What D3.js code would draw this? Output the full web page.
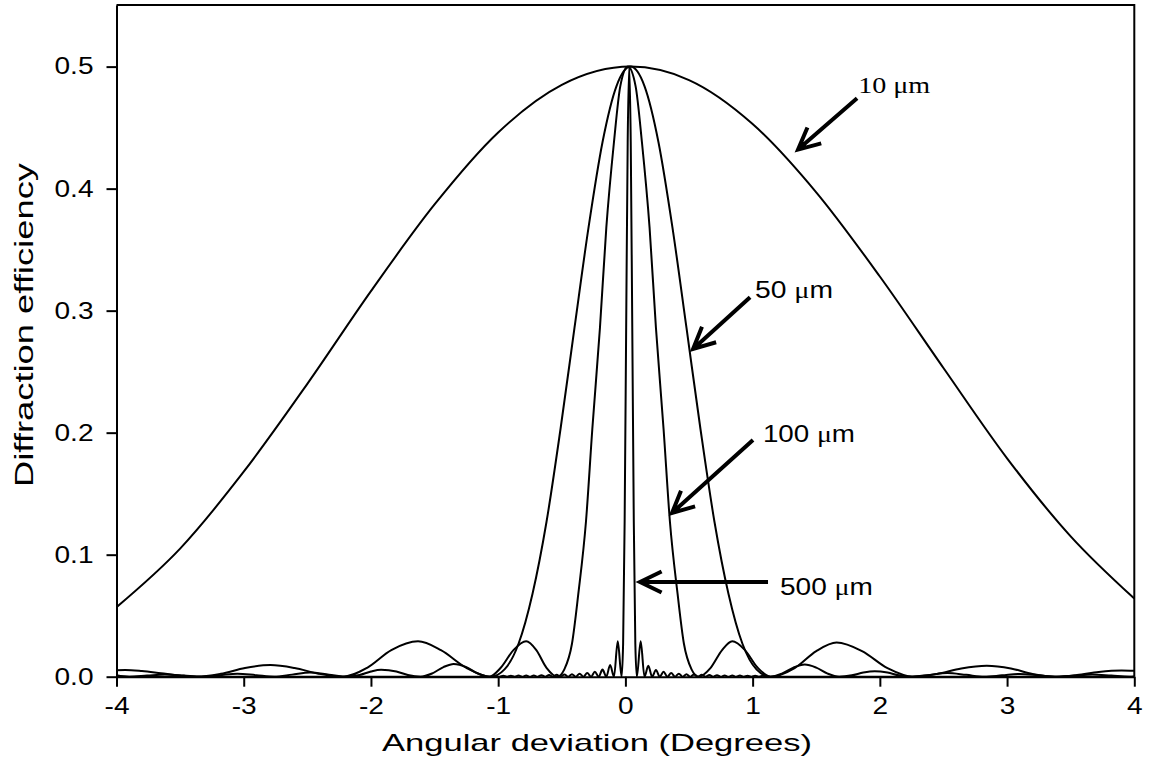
<!DOCTYPE html>
<html><head><meta charset="utf-8">
<script src="https://cdn.jsdelivr.net/npm/d3@7"></script>
<style>body{margin:0;background:#fff} svg{display:block}</style>
</head><body><svg id="c" width="1152" height="773"></svg>
<script>
// ---------- data ----------
const xTicks = [-4,-3,-2,-1,0,1,2,3,4];
const xTickLabels = ["-4","-3","-2","-1","0","1","2","3","4"];
const yTicks = [0,0.1,0.2,0.3,0.4,0.5];
const yTickLabels = ["0.0","0.1","0.2","0.3","0.4","0.5"];
const xTitle = "Angular deviation (Degrees)";
const yTitle = "Diffraction efficiency";
const seriesNames = ["10 \u03bcm","50 \u03bcm","100 \u03bcm","500 \u03bcm"];

const tenMicron = [[-4,0.057],[-3.5,0.105],[-3,0.168],[-2.5,0.240],[-2,0.316],[-1.5,0.387],[-1,0.446],[-0.5,0.485],[0.04,0.5],[0.5,0.489],[1,0.453],[1.5,0.397],[2,0.328],[2.5,0.253],[3,0.179],[3.5,0.115],[4,0.064]];

const fiftyMicron = [[-4,0.0052],[-3.93,0.0055],[-3.8,0.0046],[-3.65,0.0028],[-3.5,0.0010],[-3.37,0],
[-3.18,0.0024],[-2.99,0.0071],[-2.79,0.0095],[-2.60,0.0071],[-2.41,0.0024],[-2.22,0],
[-2.03,0.0073],[-1.84,0.0218],[-1.63,0.029],[-1.45,0.0218],[-1.25,0.0073],[-1.06,0],
[-0.95,0.006],[-0.84,0.027],[-0.73,0.068],[-0.62,0.127],[-0.51,0.203],[-0.40,0.286],[-0.29,0.368],[-0.18,0.438],[-0.07,0.484],[0.04,0.5],[0.15,0.484],[0.26,0.438],[0.37,0.368],[0.48,0.286],[0.59,0.203],[0.70,0.127],[0.81,0.068],[0.92,0.027],[1.03,0.006],[1.14,0],
[1.33,0.007],[1.50,0.021],[1.66,0.028],[1.86,0.021],[2.06,0.007],[2.26,0],
[2.45,0.0023],[2.64,0.0068],[2.84,0.009],[3.03,0.0068],[3.20,0.0023],[3.38,0],
[3.55,0.0013],[3.72,0.0038],[3.90,0.005],[4,0.0048]];

const hundredMicron = [[-4,0.0012],[-3.90,0],[-3.76,0.0009],[-3.62,0.0018],[-3.47,0.0009],[-3.33,0],[-3.19,0.0012],[-3.05,0.0025],[-2.90,0.0012],[-2.76,0],[-2.62,0.0017],[-2.48,0.0035],[-2.33,0.0017],[-2.19,0],
[-2.09,0.0014],[-2.0,0.0043],[-1.92,0.0057],[-1.80,0.0043],[-1.71,0.0014],[-1.61,0],
[-1.52,0.0026],[-1.43,0.0079],[-1.35,0.0105],[-1.25,0.0079],[-1.16,0.0026],[-1.07,0],
[-0.98,0.0073],[-0.88,0.0218],[-0.78,0.029],[-0.70,0.0218],[-0.62,0.0073],[-0.535,0],
[-0.48,0.006],[-0.42,0.027],[-0.37,0.068],[-0.31,0.127],[-0.26,0.203],[-0.20,0.286],[-0.15,0.368],[-0.09,0.438],[-0.04,0.484],[0.02,0.5],[0.08,0.484],[0.13,0.438],[0.19,0.368],[0.24,0.286],[0.30,0.203],[0.35,0.127],[0.41,0.068],[0.46,0.027],[0.52,0.006],[0.575,0],
[0.67,0.0073],[0.76,0.0218],[0.84,0.029],[0.94,0.0218],[1.04,0.0073],[1.14,0],
[1.23,0.0025],[1.32,0.0074],[1.41,0.0099],[1.50,0.0074],[1.59,0.0025],[1.68,0],
[1.78,0.0011],[1.87,0.0034],[1.96,0.0045],[2.06,0.0034],[2.15,0.0011],[2.25,0],
[2.39,0.0015],[2.53,0.003],[2.68,0.0015],[2.82,0],[2.96,0.0011],[3.10,0.0023],[3.25,0.0011],[3.39,0],[3.53,0.0009],[3.67,0.0018],[3.82,0.0009],[3.96,0],[4,0.0002]];

const fiveHundredMicron = [[-4,0],[-0.99,0],[-0.96,0.0008],[-0.93,0],[-0.90,0.0008],[-0.87,0],[-0.84,0.0009],[-0.81,0],[-0.78,0.001],[-0.75,0],[-0.72,0.001],[-0.69,0],[-0.66,0.0012],[-0.63,0],[-0.60,0.0013],[-0.57,0],[-0.54,0.0015],[-0.51,0],[-0.48,0.0018],[-0.45,0],[-0.42,0.002],[-0.39,0],[-0.36,0.0025],[-0.33,0],[-0.30,0.003],[-0.27,0],[-0.24,0.004],[-0.21,0],[-0.18,0.0058],[-0.15,0],[-0.12,0.0096],[-0.09,0],[-0.06,0.029],[-0.03,0],
[-0.018,0.027],[-0.006,0.127],[0.006,0.286],[0.018,0.438],[0.03,0.5],[0.042,0.438],[0.054,0.286],[0.066,0.127],[0.078,0.027],[0.09,0],
[0.12,0.029],[0.15,0],[0.18,0.009],[0.21,0],[0.24,0.0055],[0.27,0],[0.30,0.004],[0.33,0],[0.36,0.003],[0.39,0],[0.42,0.0025],[0.45,0],[0.48,0.002],[0.51,0],[0.54,0.0018],[0.57,0],[0.60,0.0015],[0.63,0],[0.66,0.0013],[0.69,0],[0.72,0.0012],[0.75,0],[0.78,0.001],[0.81,0],[0.84,0.001],[0.87,0],[0.90,0.0009],[0.93,0],[0.96,0.0008],[0.99,0],[1.02,0.0008],[1.05,0],[1.08,0.0007],[1.11,0],[4,0]];

// annotation anchors in data units (tail of arrow, tip of arrow, label start)
const arrowTails = [[1.821,0.474],[0.980,0.311],[1.003,0.194],[1.121,0.0776]];
const arrowTips  = [[1.357,0.432],[0.532,0.2686],[0.3665,0.1342],[0.115,0.0776]];
const labelPos   = [[1.83,0.478],[1.019,0.3104],[1.081,0.1924],[1.215,0.067]];

// ---------- layout ----------
const svg = d3.select("#c");
const x = d3.scaleLinear().domain([-4,4]).range([116.5,1134.3]);
const y = d3.scaleLinear().domain([0,0.5505]).range([676.7,5]);
const SANS = "'Liberation Sans', Arial, sans-serif";
const SERIF = "'Liberation Serif', 'Times New Roman', serif";

function stretch(sel, f){
  sel.each(function(){
    const w = this.getComputedTextLength();
    this.setAttribute("textLength", w*f);
    this.setAttribute("lengthAdjust","spacingAndGlyphs");
  });
}

svg.append("clipPath").attr("id","clip").append("rect")
  .attr("x",x(-4)).attr("y",y(0.5505)).attr("width",x(4)-x(-4)).attr("height",y(0)-y(0.5505)+2);

const line = d3.line().x(d=>x(d[0])).y(d=>y(d[1])).curve(d3.curveMonotoneX);
const gc = svg.append("g").attr("clip-path","url(#clip)");
[tenMicron,fiftyMicron,hundredMicron,fiveHundredMicron].forEach(s=>{
  gc.append("path").attr("d",line(s)).attr("fill","none").attr("stroke","#000").attr("stroke-width",2).attr("stroke-linejoin","round");
});

// axes
const gx = svg.append("g").attr("transform",`translate(0,${y(0)})`)
  .call(d3.axisBottom(x).tickValues(xTicks).tickFormat((d,i)=>xTickLabels[i]).tickSize(10).tickSizeOuter(0).tickPadding(11));
const gy = svg.append("g").attr("transform",`translate(${x(-4)},0)`)
  .call(d3.axisLeft(y).tickValues(yTicks).tickFormat((d,i)=>yTickLabels[i]).tickSize(10).tickSizeOuter(0).tickPadding(13));
[gx,gy].forEach(g=>{
  g.attr("font-family",SANS).attr("font-size",23);
  g.select(".domain").attr("stroke","#000").attr("stroke-width",2);
  g.selectAll(".tick line").attr("stroke","#000").attr("stroke-width",2);
  g.selectAll(".tick text").attr("fill","#000");
});
stretch(gx.selectAll(".tick text"),1.22);
stretch(gy.selectAll(".tick text"),1.22);

// frame top/right
svg.append("path").attr("d",`M${x(-4)},${y(0.5505)}H${x(4)}V${y(0)}`)
  .attr("fill","none").attr("stroke","#000").attr("stroke-width",2);

// titles
const tx = svg.append("text").attr("x",597).attr("y",751).attr("text-anchor","middle")
  .attr("font-family",SANS).attr("font-size",24).attr("fill","#000").text(xTitle);
tx.attr("textLength",430).attr("lengthAdjust","spacingAndGlyphs");
const ty = svg.append("text").attr("transform","translate(33,325) rotate(-90)").attr("text-anchor","middle")
  .attr("font-family",SANS).attr("font-size",25).attr("fill","#000").text(yTitle);
ty.attr("textLength",324).attr("lengthAdjust","spacingAndGlyphs");

// annotations
const labelWidths = [72,78,92,93];
seriesNames.forEach((name,i)=>{
  const [x1,y1] = [x(arrowTails[i][0]), y(arrowTails[i][1])];
  const [x2,y2] = [x(arrowTips[i][0]), y(arrowTips[i][1])];
  const a = Math.atan2(y1-y2, x1-x2), L = 24, h = 26*Math.PI/180;
  const a1 = [x2+L*Math.cos(a+h), y2+L*Math.sin(a+h)];
  const a2 = [x2+L*Math.cos(a-h), y2+L*Math.sin(a-h)];
  svg.append("path").attr("d",`M${x1},${y1}L${x2},${y2}M${a1[0]},${a1[1]}L${x2},${y2}L${a2[0]},${a2[1]}`)
    .attr("fill","none").attr("stroke","#000").attr("stroke-width",4).attr("stroke-linejoin","miter");
  const parts = name.split("\u03bc");
  const t = svg.append("text").attr("x",x(labelPos[i][0])).attr("y",y(labelPos[i][1]))
    .attr("font-family", i===0?SERIF:SANS).attr("font-size",24).attr("fill","#000");
  t.append("tspan").text(parts[0]);
  t.append("tspan").attr("font-family",SERIF).text("\u03bc");
  t.append("tspan").text(parts[1]);
  t.attr("textLength",labelWidths[i]).attr("lengthAdjust","spacingAndGlyphs");
});
</script></body></html>
